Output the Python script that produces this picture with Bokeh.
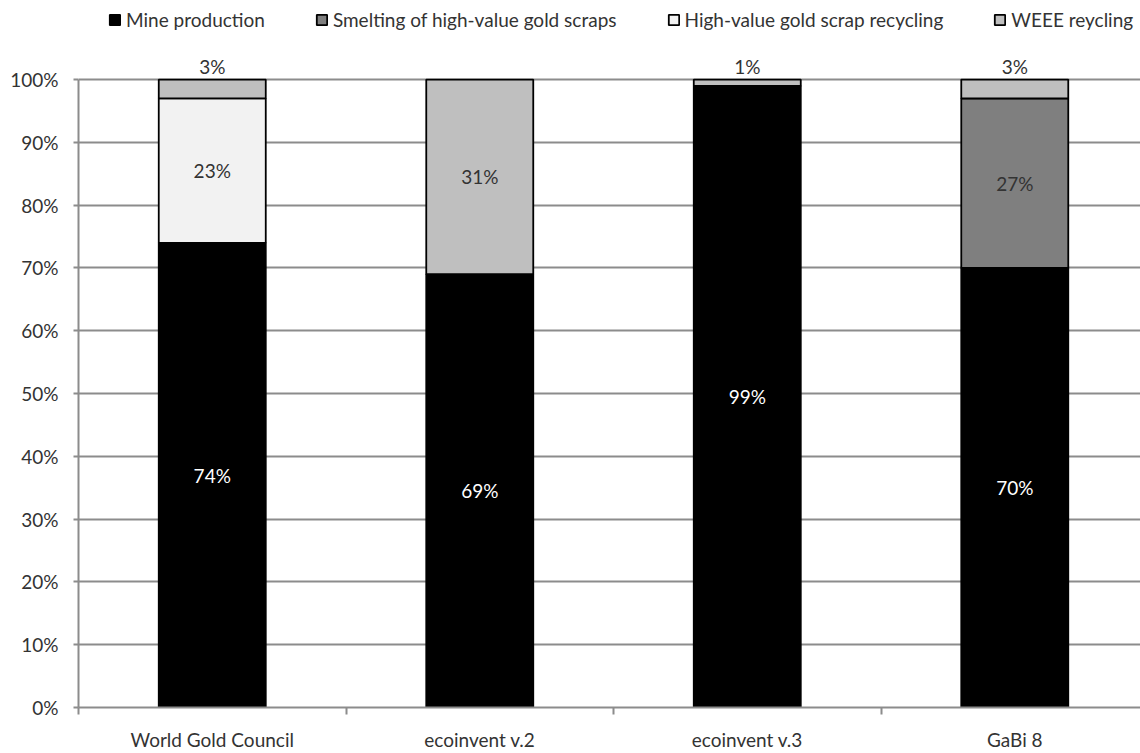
from bokeh.plotting import figure
from bokeh.models import (ColumnDataSource, FixedTicker, Legend, LegendItem,
                          NumeralTickFormatter, Range1d, LabelSet)
from bokeh.core.properties import value
from bokeh.embed import file_html
from bokeh.resources import INLINE

# Share of gold supply by source in each inventory (percent)
sources = ["World Gold Council", "ecoinvent v.2", "ecoinvent v.3", "GaBi 8"]
mine_production = [74, 69, 99, 70]
smelting_scraps = [0, 0, 0, 27]
scrap_recycling = [23, 0, 0, 0]
weee_recycling = [3, 31, 1, 3]

series_names = ["Mine production", "Smelting of high-value gold scraps",
                "High-value gold scrap recycling", "WEEE reycling"]
series_values = [mine_production, smelting_scraps, scrap_recycling, weee_recycling]
series_fill = ["#000000", "#7f7f7f", "#f2f2f2", "#bfbfbf"]
label_color = ["#ffffff", "#333333", "#333333", "#333333"]

FONT = "Lato"
FSIZE = "19px"
x_pos = [i + 0.5 for i in range(len(sources))]

data = {"x": x_pos}
keys = ["s0", "s1", "s2", "s3"]
for k, vals in zip(keys, series_values):
    data[k] = [v / 100 for v in vals]
src = ColumnDataSource(data)

# the frame reaches the top edge; the space above 100% holds the legend
p = figure(width=1140, height=753, output_backend="svg", toolbar_location=None,
           x_range=Range1d(0, 3.97), y_range=Range1d(0, 1.126),
           min_border_left=78, min_border_right=0, min_border_top=0,
           min_border_bottom=38)
p.outline_line_color = None
p.background_fill_color = "white"

renderers = p.vbar_stack(keys, x="x", width=0.4, source=src, color=series_fill,
                         line_color="#000000", line_width=1.8)

# value labels: inside each segment, or just above the bar when too thin
lx, ly, lt, lc = [], [], [], []
for i, x in enumerate(x_pos):
    base = 0.0
    for s, vals in enumerate(series_values):
        v = vals[i]
        if v > 0:
            lx.append(x)
            if v >= 5:
                ly.append((base + v / 2) / 100)
                lc.append(label_color[s])
            else:
                ly.append((base + v) / 100 + 0.021)
                lc.append("#333333")
            lt.append(f"{v}%")
        base += v
lsrc = ColumnDataSource(dict(x=lx, y=ly, t=lt, c=lc))
p.add_layout(LabelSet(x="x", y="y", text="t", source=lsrc, text_color="c",
                      text_align="center", text_baseline="middle",
                      text_font=value(FONT), text_font_size=FSIZE))

# grid and axes
p.xgrid.grid_line_color = None
p.ygrid.grid_line_color = "#8c8c8c"
p.ygrid.grid_line_width = 2
p.yaxis.ticker = FixedTicker(ticks=[i / 10 for i in range(11)])
p.yaxis.formatter = NumeralTickFormatter(format="0%")
p.yaxis.bounds = (0, 1)
p.yaxis.axis_line_color = "#8c8c8c"
p.yaxis.axis_line_width = 2
p.yaxis.major_tick_line_color = "#8c8c8c"
p.yaxis.major_tick_line_width = 2
p.yaxis.major_tick_out = 5
p.yaxis.major_tick_in = 0
p.yaxis.minor_tick_line_color = None
p.yaxis.major_label_text_font = FONT
p.yaxis.major_label_text_font_size = FSIZE
p.yaxis.major_label_text_color = "#333333"
p.yaxis.major_label_standoff = 15

p.xaxis.ticker = FixedTicker(ticks=x_pos, minor_ticks=[0, 1, 2, 3, 4])
p.xaxis.major_label_overrides = {x: s for x, s in zip(x_pos, sources)}
p.xaxis.major_tick_line_color = None
p.xaxis.minor_tick_line_color = "#8c8c8c"
p.xaxis.minor_tick_line_width = 2
p.xaxis.minor_tick_out = 7
p.xaxis.minor_tick_in = 0
p.xaxis.axis_line_color = "#8c8c8c"
p.xaxis.axis_line_width = 2
p.xaxis.major_label_text_font = FONT
p.xaxis.major_label_text_font_size = FSIZE
p.xaxis.major_label_text_color = "#333333"
p.xaxis.major_label_standoff = 13

legend = Legend(items=[LegendItem(label=n, renderers=[r])
                       for n, r in zip(series_names, renderers)],
                orientation="horizontal", location=(30, 676),
                glyph_width=13, glyph_height=13, label_standoff=5, spacing=50,
                label_height=20,
                label_text_font=FONT, label_text_font_size=FSIZE,
                label_text_color="#333333", border_line_color=None,
                background_fill_alpha=0, margin=0, padding=0)
p.add_layout(legend)

open("out.html", "w").write(file_html(p, INLINE))
